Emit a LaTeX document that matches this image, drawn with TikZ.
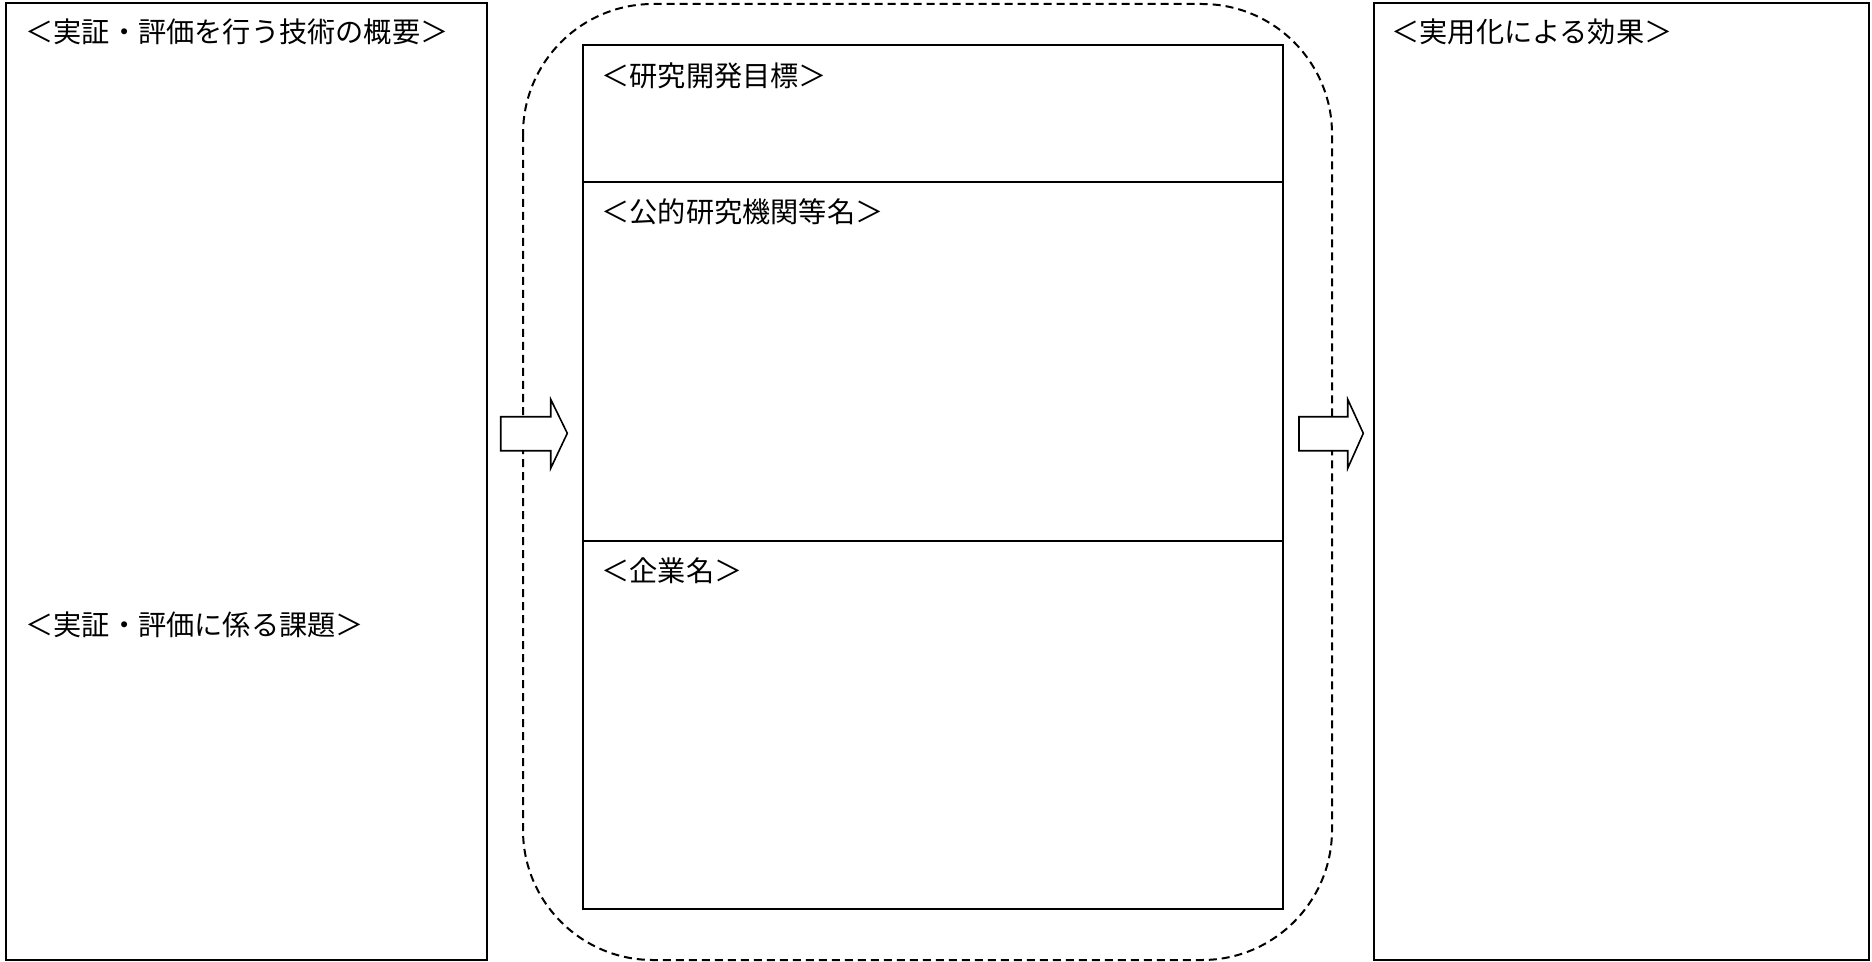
\documentclass[tikz,border=0pt]{standalone}
\usepackage{fontspec}
\newfontfamily\jpfont{Noto Sans CJK JP}
\tikzset{
  panel/.style={line width=1pt},
  dashframe/.style={line width=1pt, dash pattern=on 4pt off 2.5pt, rounded corners=65pt},
  blockarrow/.style={line width=0.8pt, fill=white},
  heading/.style={anchor=west, inner sep=0pt, font=\jpfont\fontsize{14.1}{17}\selectfont}
}
\begin{document}
\begin{tikzpicture}[x=0.5pt,y=-0.5pt]
\useasboundingbox (0,0) rectangle (1872,962);

\draw[panel] (6,3) rectangle (487,960);
\node[heading] (overview) at (25,32) {＜実証・評価を行う技術の概要＞};
\node[heading] (issues) at (25,625) {＜実証・評価に係る課題＞};

\draw[dashframe] (523,4) rectangle (1332,960);
\draw[panel] (583,45) rectangle (1283,909);
\draw[panel] (583,182) -- (1283,182);
\draw[panel] (583,541) -- (1283,541);
\node[heading] (goal) at (601,76) {＜研究開発目標＞};
\node[heading] (institute) at (601,212) {＜公的研究機関等名＞};
\node[heading] (company) at (601,571) {＜企業名＞};

\draw[panel] (1374,3) rectangle (1869,960);
\node[heading] (effect) at (1391,32) {＜実用化による効果＞};

\draw[blockarrow] (500.7,416.7) -- (550.7,416.7) -- (550.7,399.3) -- (567.3,433.3) -- (550.7,468.3) -- (550.7,450.7) -- (500.7,450.7) -- cycle;
\draw[blockarrow] (1299,416.7) -- (1347.7,416.7) -- (1347.7,399.3) -- (1363.3,433.3) -- (1347.7,468.3) -- (1347.7,450.7) -- (1299,450.7) -- cycle;
\end{tikzpicture}
\end{document}
